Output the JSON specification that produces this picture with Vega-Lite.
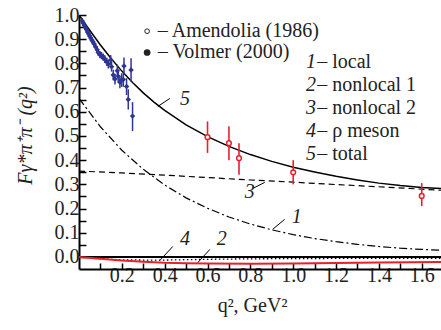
{
  "$schema": "https://vega.github.io/schema/vega-lite/v6.json",
  "autosize": {"type": "none"},
  "padding": {"left": 79, "top": 15, "right": 0, "bottom": 61},
  "width": 362,
  "height": 254,
  "background": "white",
  "config": {
    "view": {"stroke": null},
    "font": "Liberation Serif",
    "text": {"font": "Liberation Serif"},
    "axis": {
      "domainColor": "black", "domainWidth": 2, "tickColor": "black", "tickWidth": 1.5,
      "labelFont": "Liberation Serif", "labelFontSize": 20, "labelColor": "#222",
      "titleFont": "Liberation Serif", "titleFontSize": 20, "titleColor": "#222", "titleFontWeight": "normal",
      "grid": false
    }
  },
  "datasets": {
    "curves": [
      {"q": 0.0, "F": 1.0, "c": "5"}, {"q": 0.05, "F": 0.937, "c": "5"}, {"q": 0.1, "F": 0.876, "c": "5"},
      {"q": 0.15, "F": 0.82, "c": "5"}, {"q": 0.2, "F": 0.768, "c": "5"}, {"q": 0.25, "F": 0.721, "c": "5"},
      {"q": 0.3, "F": 0.678, "c": "5"}, {"q": 0.35, "F": 0.64, "c": "5"}, {"q": 0.4, "F": 0.606, "c": "5"},
      {"q": 0.5, "F": 0.546, "c": "5"}, {"q": 0.6, "F": 0.497, "c": "5"}, {"q": 0.7, "F": 0.457, "c": "5"},
      {"q": 0.8, "F": 0.423, "c": "5"}, {"q": 0.9, "F": 0.395, "c": "5"}, {"q": 1.0, "F": 0.371, "c": "5"},
      {"q": 1.1, "F": 0.351, "c": "5"}, {"q": 1.2, "F": 0.333, "c": "5"}, {"q": 1.3, "F": 0.318, "c": "5"},
      {"q": 1.4, "F": 0.305, "c": "5"}, {"q": 1.5, "F": 0.295, "c": "5"}, {"q": 1.6, "F": 0.287, "c": "5"},
      {"q": 1.7, "F": 0.282, "c": "5"},
      {"q": 0.0, "F": 0.355, "c": "3"}, {"q": 0.2, "F": 0.347, "c": "3"}, {"q": 0.4, "F": 0.338, "c": "3"},
      {"q": 0.6, "F": 0.328, "c": "3"}, {"q": 0.8, "F": 0.318, "c": "3"}, {"q": 1.0, "F": 0.309, "c": "3"},
      {"q": 1.2, "F": 0.299, "c": "3"}, {"q": 1.4, "F": 0.29, "c": "3"}, {"q": 1.6, "F": 0.28, "c": "3"},
      {"q": 1.7, "F": 0.275, "c": "3"},
      {"q": 0.0, "F": 0.655, "c": "1"}, {"q": 0.1, "F": 0.538, "c": "1"}, {"q": 0.2, "F": 0.441, "c": "1"},
      {"q": 0.3, "F": 0.362, "c": "1"}, {"q": 0.4, "F": 0.297, "c": "1"}, {"q": 0.5, "F": 0.244, "c": "1"},
      {"q": 0.6, "F": 0.201, "c": "1"}, {"q": 0.7, "F": 0.165, "c": "1"}, {"q": 0.8, "F": 0.136, "c": "1"},
      {"q": 0.9, "F": 0.112, "c": "1"}, {"q": 1.0, "F": 0.092, "c": "1"}, {"q": 1.1, "F": 0.076, "c": "1"},
      {"q": 1.2, "F": 0.063, "c": "1"}, {"q": 1.3, "F": 0.052, "c": "1"}, {"q": 1.4, "F": 0.043, "c": "1"},
      {"q": 1.5, "F": 0.036, "c": "1"}, {"q": 1.6, "F": 0.031, "c": "1"}, {"q": 1.7, "F": 0.027, "c": "1"},
      {"q": 0.0, "F": 0.0, "c": "2"}, {"q": 0.1, "F": -0.008, "c": "2"}, {"q": 0.2, "F": -0.015, "c": "2"},
      {"q": 0.3, "F": -0.02, "c": "2"}, {"q": 0.4, "F": -0.024, "c": "2"}, {"q": 0.5, "F": -0.026, "c": "2"},
      {"q": 0.6, "F": -0.027, "c": "2"}, {"q": 0.8, "F": -0.028, "c": "2"}, {"q": 1.0, "F": -0.027, "c": "2"},
      {"q": 1.2, "F": -0.025, "c": "2"}, {"q": 1.4, "F": -0.023, "c": "2"}, {"q": 1.7, "F": -0.021, "c": "2"},
      {"q": 0.0, "F": 0.0, "c": "4"}, {"q": 0.1, "F": -0.008, "c": "4"}, {"q": 0.2, "F": -0.012, "c": "4"},
      {"q": 0.3, "F": -0.013, "c": "4"}, {"q": 0.4, "F": -0.013, "c": "4"}, {"q": 0.6, "F": -0.01, "c": "4"},
      {"q": 0.8, "F": -0.008, "c": "4"}, {"q": 1.0, "F": -0.007, "c": "4"}, {"q": 1.3, "F": -0.006, "c": "4"},
      {"q": 1.7, "F": -0.006, "c": "4"},
      {"q": 0.0, "F": 0.0, "c": "0"}, {"q": 1.7, "F": 0.0, "c": "0"}
    ],
    "blue": [
      {"q": 0.015, "F": 0.975, "lo": 0.963, "hi": 0.987},
      {"q": 0.02, "F": 0.966, "lo": 0.954, "hi": 0.978},
      {"q": 0.025, "F": 0.957, "lo": 0.945, "hi": 0.969},
      {"q": 0.03, "F": 0.948, "lo": 0.936, "hi": 0.96},
      {"q": 0.035, "F": 0.94, "lo": 0.928, "hi": 0.952},
      {"q": 0.04, "F": 0.93, "lo": 0.918, "hi": 0.942},
      {"q": 0.045, "F": 0.922, "lo": 0.91, "hi": 0.934},
      {"q": 0.05, "F": 0.913, "lo": 0.901, "hi": 0.925},
      {"q": 0.055, "F": 0.905, "lo": 0.893, "hi": 0.917},
      {"q": 0.06, "F": 0.897, "lo": 0.885, "hi": 0.909},
      {"q": 0.065, "F": 0.889, "lo": 0.877, "hi": 0.901},
      {"q": 0.07, "F": 0.881, "lo": 0.868, "hi": 0.894},
      {"q": 0.078, "F": 0.868, "lo": 0.855, "hi": 0.881},
      {"q": 0.085, "F": 0.856, "lo": 0.842, "hi": 0.87},
      {"q": 0.09, "F": 0.845, "lo": 0.831, "hi": 0.859},
      {"q": 0.098, "F": 0.836, "lo": 0.821, "hi": 0.851},
      {"q": 0.105, "F": 0.832, "lo": 0.817, "hi": 0.847},
      {"q": 0.113, "F": 0.826, "lo": 0.811, "hi": 0.841},
      {"q": 0.12, "F": 0.818, "lo": 0.802, "hi": 0.834},
      {"q": 0.13, "F": 0.806, "lo": 0.789, "hi": 0.823},
      {"q": 0.137, "F": 0.797, "lo": 0.779, "hi": 0.815},
      {"q": 0.148, "F": 0.814, "lo": 0.794, "hi": 0.834},
      {"q": 0.152, "F": 0.786, "lo": 0.766, "hi": 0.806},
      {"q": 0.16, "F": 0.752, "lo": 0.73, "hi": 0.774},
      {"q": 0.168, "F": 0.735, "lo": 0.713, "hi": 0.757},
      {"q": 0.179, "F": 0.77, "lo": 0.745, "hi": 0.795},
      {"q": 0.183, "F": 0.747, "lo": 0.722, "hi": 0.772},
      {"q": 0.191, "F": 0.722, "lo": 0.697, "hi": 0.747},
      {"q": 0.199, "F": 0.731, "lo": 0.703, "hi": 0.759},
      {"q": 0.207, "F": 0.733, "lo": 0.703, "hi": 0.763},
      {"q": 0.21, "F": 0.789, "lo": 0.754, "hi": 0.824},
      {"q": 0.222, "F": 0.704, "lo": 0.669, "hi": 0.739},
      {"q": 0.23, "F": 0.651, "lo": 0.609, "hi": 0.693},
      {"q": 0.243, "F": 0.773, "lo": 0.725, "hi": 0.821},
      {"q": 0.25, "F": 0.582, "lo": 0.52, "hi": 0.64}
    ],
    "red": [
      {"q": 0.6, "F": 0.495, "lo": 0.43, "hi": 0.56},
      {"q": 0.7, "F": 0.47, "lo": 0.4, "hi": 0.54},
      {"q": 0.747, "F": 0.408, "lo": 0.34, "hi": 0.47},
      {"q": 1.0, "F": 0.35, "lo": 0.3, "hi": 0.4},
      {"q": 1.6, "F": 0.252, "lo": 0.21, "hi": 0.305}
    ],
    "nums": [
      {"q": 0.471, "F": 0.651, "t": "5"},
      {"q": 0.774, "F": 0.267, "t": "3"},
      {"q": 0.993, "F": 0.167, "t": "1"},
      {"q": 0.471, "F": 0.072, "t": "4"},
      {"q": 0.643, "F": 0.072, "t": "2"},
      {"q": 1.06, "F": 0.804, "t": "1"},
      {"q": 1.06, "F": 0.709, "t": "2"},
      {"q": 1.06, "F": 0.614, "t": "3"},
      {"q": 1.06, "F": 0.519, "t": "4"},
      {"q": 1.06, "F": 0.424, "t": "5"}
    ],
    "leaders": [
      {"q": 0.368, "F": 0.622, "q2": 0.424, "F2": 0.655},
      {"q": 0.811, "F": 0.283, "q2": 0.867, "F2": 0.308},
      {"q": 0.904, "F": 0.114, "q2": 0.96, "F2": 0.155},
      {"q": 0.378, "F": -0.014, "q2": 0.438, "F2": 0.043},
      {"q": 0.555, "F": -0.023, "q2": 0.611, "F2": 0.031}
    ],
    "texts": [
      {"q": 0.368, "F": 0.933, "t": "– Amendolia (1986)"},
      {"q": 0.368, "F": 0.845, "t": "– Volmer (2000)"},
      {"q": 1.112, "F": 0.804, "t": "– local"},
      {"q": 1.112, "F": 0.709, "t": "– nonlocal 1"},
      {"q": 1.112, "F": 0.614, "t": "– nonlocal 2"},
      {"q": 1.112, "F": 0.519, "t": "– ρ meson"},
      {"q": 1.112, "F": 0.424, "t": "– total"}
    ],
    "legsym": [
      {"q": 0.318, "F": 0.933, "s": "open"},
      {"q": 0.318, "F": 0.845, "s": "filled"}
    ]
  },
  "encoding": {
    "x": {"field": "q", "type": "quantitative", "scale": {"domain": [0, 1.69], "nice": false, "zero": false},
      "axis": {"values": [0.1,0.2,0.3,0.4,0.5,0.6,0.7,0.8,0.9,1.0,1.1,1.2,1.3,1.4,1.5,1.6],
        "labelExpr": "abs(datum.value*5 - round(datum.value*5)) < 0.01 ? format(datum.value, '.1f') : ''",
        "tickSize": -6, "labelPadding": 2, "labelFlush": false, "labelOverlap": false,
        "title": "q², GeV²", "titleX": 173, "titleY": 36, "titleBaseline": "middle", "titleAnchor": null, "titleAlign": "center"}},
    "y": {"field": "F", "type": "quantitative", "scale": {"domain": [-0.05, 1.0], "nice": false, "zero": false},
      "axis": {"values": [0,0.05,0.1,0.15,0.2,0.25,0.3,0.35,0.4,0.45,0.5,0.55,0.6,0.65,0.7,0.75,0.8,0.85,0.9,0.95,1.0],
        "labelExpr": "abs(datum.value*10 - round(datum.value*10)) < 0.01 ? format(datum.value, '.1f') : ''",
        "tickSize": -7, "labelPadding": 7, "labelFlush": false, "labelOverlap": false,
        "title": "Fγ*π⁺π⁻ (q²)", "titleFontStyle": "italic", "titleX": -54, "titleY": 120, "titleAngle": -90,
        "titleAlign": "center", "titleBaseline": "middle", "titleAnchor": null}}
  },
  "layer": [
    {"data": {"name": "curves"}, "transform": [{"filter": "datum.c == '0'"}],
      "mark": {"type": "line", "color": "black", "strokeWidth": 2, "clip": true}},
    {"data": {"name": "curves"}, "transform": [{"filter": "datum.c == '5'"}],
      "mark": {"type": "line", "color": "black", "strokeWidth": 1.5, "clip": true}},
    {"data": {"name": "curves"}, "transform": [{"filter": "datum.c == '3'"}],
      "mark": {"type": "line", "color": "black", "strokeWidth": 1.2, "strokeDash": [6, 4], "clip": true}},
    {"data": {"name": "curves"}, "transform": [{"filter": "datum.c == '1'"}],
      "mark": {"type": "line", "color": "black", "strokeWidth": 1.2, "strokeDash": [8, 3, 2, 3], "clip": true}},
    {"data": {"name": "curves"}, "transform": [{"filter": "datum.c == '4'"}],
      "mark": {"type": "line", "color": "black", "strokeWidth": 1.3, "strokeDash": [1.5, 2.5], "clip": true}},
    {"data": {"name": "curves"}, "transform": [{"filter": "datum.c == '2'"}],
      "mark": {"type": "line", "color": "#e8202a", "strokeWidth": 2, "clip": true}},
    {"data": {"name": "blue"}, "mark": {"type": "rule", "color": "#2e3592", "strokeWidth": 1.5},
      "encoding": {"y": {"field": "lo", "type": "quantitative"}, "y2": {"field": "hi"}}},
    {"data": {"name": "blue"}, "mark": {"type": "point", "shape": "diamond", "filled": true, "color": "#2e3592", "size": 30, "opacity": 1}},
    {"data": {"name": "red"}, "mark": {"type": "rule", "color": "#e8202a", "strokeWidth": 1.6},
      "encoding": {"y": {"field": "lo", "type": "quantitative"}, "y2": {"field": "hi"}}},
    {"data": {"name": "red"}, "mark": {"type": "point", "shape": "circle", "filled": true, "fill": "white", "stroke": "#e8202a", "strokeWidth": 1.5, "size": 22, "opacity": 1}},
    {"data": {"name": "leaders"}, "mark": {"type": "rule", "color": "black", "strokeWidth": 1},
      "encoding": {"x2": {"field": "q2"}, "y2": {"field": "F2"}}},
    {"data": {"name": "nums"}, "mark": {"type": "text", "fontSize": 20, "fontStyle": "italic", "color": "#222", "align": "left", "baseline": "middle"},
      "encoding": {"text": {"field": "t"}}},
    {"data": {"name": "texts"}, "mark": {"type": "text", "fontSize": 20, "color": "#222", "align": "left", "baseline": "middle"},
      "encoding": {"text": {"field": "t"}}},
    {"data": {"name": "legsym"}, "transform": [{"filter": "datum.s == 'open'"}],
      "mark": {"type": "point", "shape": "circle", "filled": false, "color": "#222", "strokeWidth": 1, "size": 22, "opacity": 1}},
    {"data": {"name": "legsym"}, "transform": [{"filter": "datum.s == 'filled'"}],
      "mark": {"type": "point", "shape": "circle", "filled": true, "color": "#222", "size": 45, "opacity": 1}}
  ]
}
